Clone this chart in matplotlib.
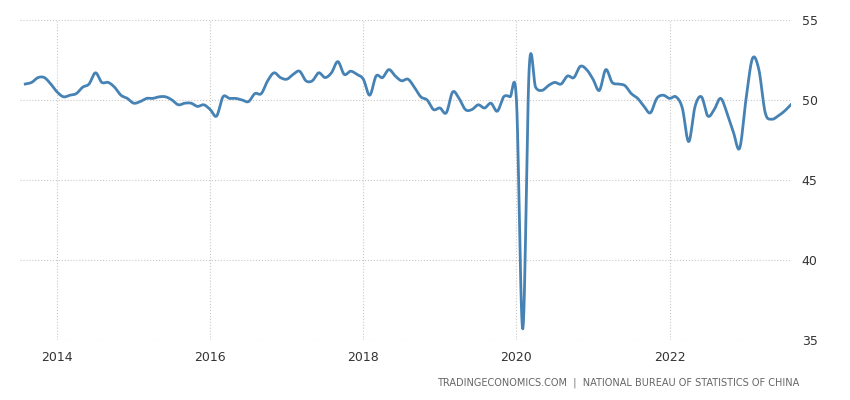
import numpy as np
import matplotlib
matplotlib.use("Agg")
import matplotlib.pyplot as plt

start_year, start_month = 2013, 8
pmi = [51.0, 51.1, 51.4, 51.4, 51.0,
       50.5, 50.2, 50.3, 50.4, 50.8, 51.0, 51.7, 51.1, 51.1, 50.8, 50.3, 50.1,
       49.8, 49.9, 50.1, 50.1, 50.2, 50.2, 50.0, 49.7, 49.8, 49.8, 49.6, 49.7,
       49.4, 49.0, 50.2, 50.1, 50.1, 50.0, 49.9, 50.4, 50.4, 51.2, 51.7, 51.4,
       51.3, 51.6, 51.8, 51.2, 51.2, 51.7, 51.4, 51.7, 52.4, 51.6, 51.8, 51.6,
       51.3, 50.3, 51.5, 51.4, 51.9, 51.5, 51.2, 51.3, 50.8, 50.2, 50.0, 49.4,
       49.5, 49.2, 50.5, 50.1, 49.4, 49.4, 49.7, 49.5, 49.8, 49.3, 50.2, 50.2,
       50.0, 35.7, 52.0, 50.8, 50.6, 50.9, 51.1, 51.0, 51.5, 51.4, 52.1, 51.9,
       51.3, 50.6, 51.9, 51.1, 51.0, 50.9, 50.4, 50.1, 49.6, 49.2, 50.1, 50.3,
       50.1, 50.2, 49.5, 47.4, 49.6, 50.2, 49.0, 49.4, 50.1, 49.2, 48.0, 47.0,
       50.1, 52.6, 51.9, 49.2, 48.8, 49.0, 49.3, 49.7]
yticks = [35, 40, 45, 50, 55]
xtick_years = [2014, 2016, 2018, 2020, 2022]

x = start_year + (start_month - 1) / 12 + np.arange(len(pmi)) / 12
y = np.array(pmi)

# Catmull-Rom rendering for the smooth line look
def catmull(x, y, n=12):
    xs, ys = [], []
    P = np.column_stack([x, y])
    P = np.vstack([P[0], P, P[-1]])
    for i in range(1, len(P) - 2):
        p0, p1, p2, p3 = P[i-1], P[i], P[i+1], P[i+2]
        t = np.linspace(0, 1, n, endpoint=False)[:, None]
        pts = 0.5 * ((2*p1) + (-p0 + p2)*t + (2*p0 - 5*p1 + 4*p2 - p3)*t**2 + (-p0 + 3*p1 - 3*p2 + p3)*t**3)
        xs.append(pts[:, 0]); ys.append(pts[:, 1])
    xs.append([x[-1]]); ys.append([y[-1]])
    return np.concatenate(xs), np.concatenate(ys)

sx, sy = catmull(x, y)

fig = plt.figure(figsize=(8.5, 4.0), dpi=100)
ax = fig.add_axes([0.024, 0.15, 0.906, 0.80])
ax.plot(sx, sy, color="#4682b4", lw=2)
ax.set_xlim(2013.52, 2023.58)
ax.set_ylim(35, 55)
ax.yaxis.tick_right()
ax.set_yticks(yticks)
ax.set_xticks(xtick_years)
ax.set_xticklabels([str(v) for v in xtick_years])
ax.grid(True, color="#c8c8c8", linestyle=":", lw=0.8)
for s in ax.spines.values():
    s.set_visible(False)
ax.tick_params(length=0, labelsize=9, colors="#333333", pad=8)
fig.text(0.94, 0.035, "TRADINGECONOMICS.COM  |  NATIONAL BUREAU OF STATISTICS OF CHINA",
         ha="right", fontsize=7, color="#666666")
fig.savefig("out.png")
